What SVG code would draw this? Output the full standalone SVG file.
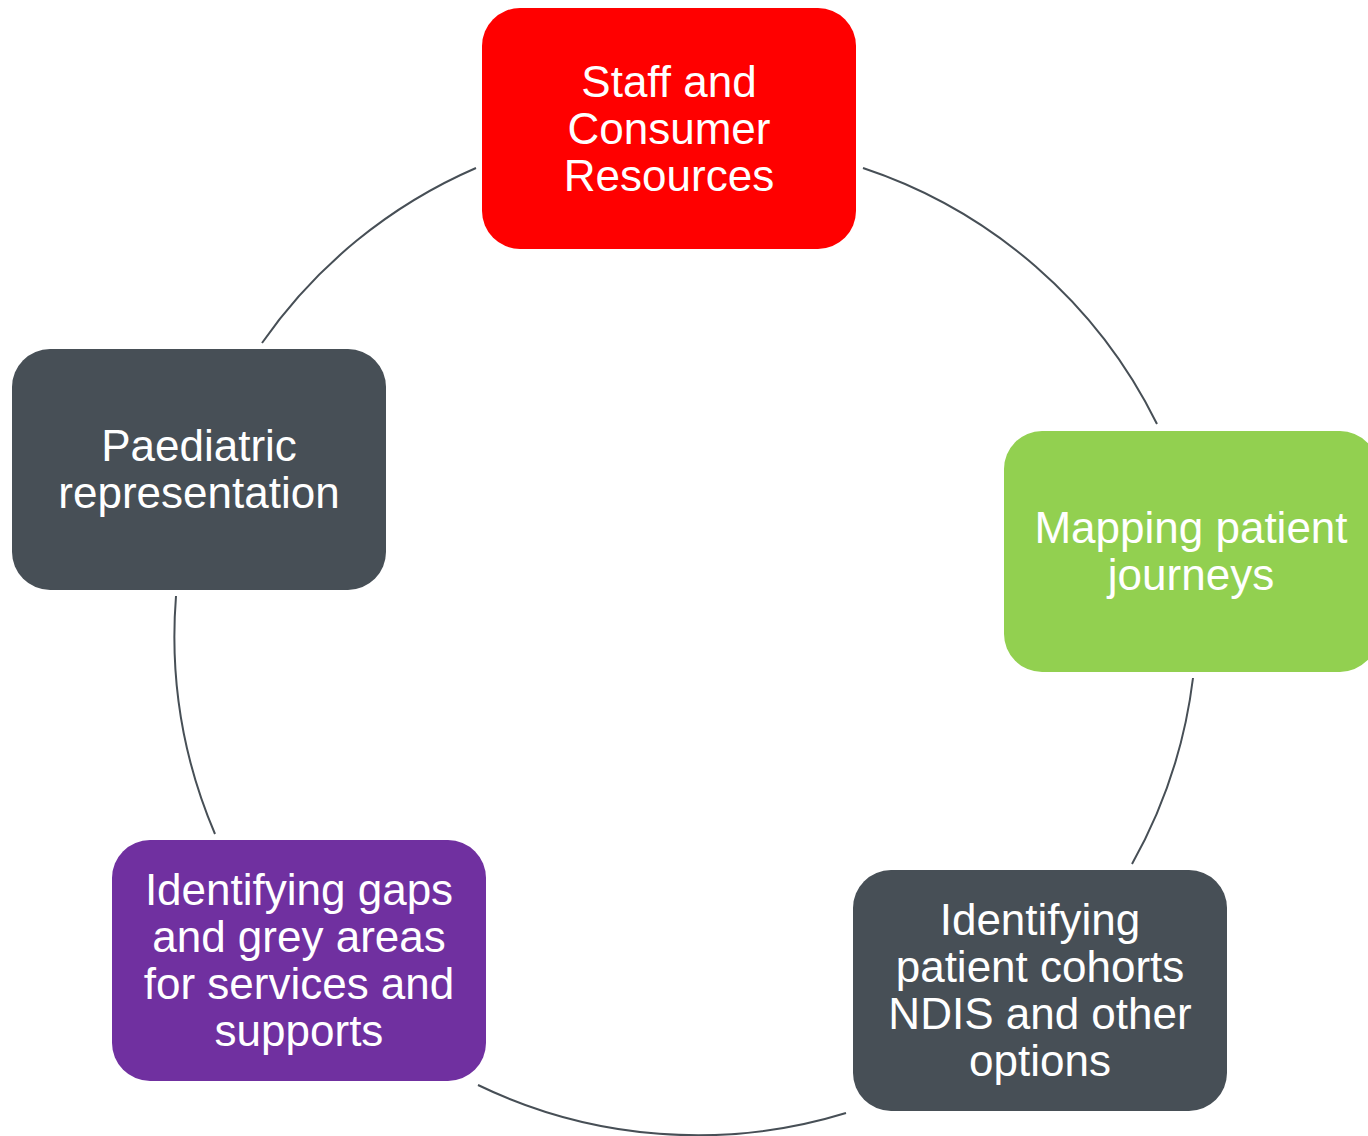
<svg xmlns="http://www.w3.org/2000/svg" width="1368" height="1136" viewBox="0 0 1368 1136">
<style>
.box{stroke:none}
.lbl{font-family:"Liberation Sans",Arial,sans-serif;font-size:44px;fill:#FFFFFF;text-anchor:middle}
.arc{fill:none;stroke:#474F56;stroke-width:2}
</style>
<rect width="1368" height="1136" fill="#FFFFFF"/>
<g id="connectors">
<path class="arc" d="M262,343 A505,505 0 0 1 476,168"/>
<path class="arc" d="M863,168 A505,505 0 0 1 1157,424"/>
<path class="arc" d="M1193,678 A505,505 0 0 1 1132,864"/>
<path class="arc" d="M846,1113 A505,505 0 0 1 478,1085"/>
<path class="arc" d="M215,834 A505,505 0 0 1 176,596"/>
</g>
<g id="node-staff">
<rect class="box" x="482" y="8" width="374" height="241" rx="38" fill="#FF0000"/>
<text class="lbl" x="669" y="97">Staff and</text>
<text class="lbl" x="669" y="144">Consumer</text>
<text class="lbl" x="669" y="191">Resources</text>
</g>
<g id="node-mapping">
<rect class="box" x="1004" y="431" width="374" height="241" rx="38" fill="#92D050"/>
<text class="lbl" x="1191" y="543">Mapping patient</text>
<text class="lbl" x="1191" y="590">journeys</text>
</g>
<g id="node-cohorts">
<rect class="box" x="853" y="870" width="374" height="241" rx="38" fill="#474F56"/>
<text class="lbl" x="1040" y="935">Identifying</text>
<text class="lbl" x="1040" y="982">patient cohorts</text>
<text class="lbl" x="1040" y="1029">NDIS and other</text>
<text class="lbl" x="1040" y="1076">options</text>
</g>
<g id="node-gaps">
<rect class="box" x="112" y="840" width="374" height="241" rx="38" fill="#7030A0"/>
<text class="lbl" x="299" y="905">Identifying gaps</text>
<text class="lbl" x="299" y="952">and grey areas</text>
<text class="lbl" x="299" y="999">for services and</text>
<text class="lbl" x="299" y="1046">supports</text>
</g>
<g id="node-paediatric">
<rect class="box" x="12" y="349" width="374" height="241" rx="38" fill="#474F56"/>
<text class="lbl" x="199" y="461">Paediatric</text>
<text class="lbl" x="199" y="508">representation</text>
</g>
</svg>
